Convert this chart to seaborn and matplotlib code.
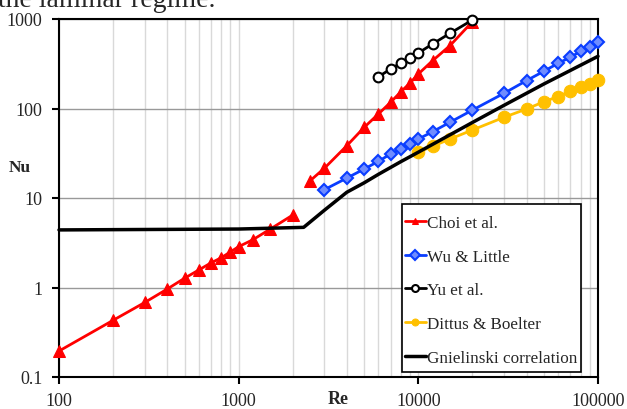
import numpy as np
import matplotlib
matplotlib.use("Agg")
import matplotlib.pyplot as plt
import matplotlib.ticker as mticker
import matplotlib.patches as mpatches
import seaborn as sns
import pandas as pd

# values
choi_re = [100, 200, 300, 400, 500, 600, 700, 800, 900, 1000, 1200, 1500, 2000,
           2500, 3000, 4000, 5000, 6000, 7000, 8000, 9000, 10000, 12000, 15000, 20000]
choi_nu = [0.195, 0.43, 0.68, 0.96, 1.27, 1.57, 1.88, 2.15, 2.5, 2.86, 3.42, 4.5, 6.45,
           15.6, 21.5, 38.4, 61.7, 87, 117, 154, 193, 243, 342, 504, 933]
# laminar (0) and turbulent (1) branches are drawn unconnected
choi_branch = [0] * 13 + [1] * 12

wu_re = [3000, 4000, 5000, 6000, 7000, 8000, 9000, 10000, 12000, 15000, 20000,
         30000, 40000, 50000, 60000, 70000, 80000, 90000, 100000]
wu_nu = [12.4, 16.7, 21.1, 25.7, 31, 35.3, 40.1, 45.6, 55, 70.2, 96,
         148, 205, 261, 320, 373, 435, 490, 557]

yu_re = [6000, 7000, 8000, 9000, 10000, 12000, 15000, 20000]
yu_nu = [226, 276, 322, 364, 417, 526, 692, 975]

db_re = [10000, 12000, 15000, 20000, 30000, 40000, 50000, 60000, 70000, 80000, 90000, 100000]
db_nu = [32.5, 37.8, 45.6, 57.5, 79.8, 98.7, 119, 136, 156, 173, 188, 208]

gn_re = [100, 1000, 2300, 3000, 4000, 5000, 6000, 8000, 10000, 20000, 30000, 50000, 100000]
gn_nu = [4.4, 4.5, 4.7, 7.3, 11.6, 14.8, 18.4, 25.5, 32.5, 69.8, 108.6, 188, 383]

sns.set_style("white")
plt.rcParams['font.family'] = ['Liberation Serif', 'DejaVu Serif']

W, H = 627, 410
fig = plt.figure(figsize=(W / 100, H / 100), dpi=100)
ax = fig.add_axes([59/W, 32/H, 539/W, 358/H])

series = [
    ("Choi et al.", choi_re, choi_nu, choi_branch,
     dict(color="#FF0000", marker="^", markersize=9,
          markerfacecolor="#FF0000", markeredgecolor="#FF0000")),
    ("Wu & Little", wu_re, wu_nu, None,
     dict(color="#0A3DFF", marker="D", markersize=6,
          markerfacecolor="#6F8CFF", markeredgecolor="#0A3DFF", markeredgewidth=1.5)),
    ("Yu et al.", yu_re, yu_nu, None,
     dict(color="black", marker="o", markersize=7,
          markerfacecolor="white", markeredgecolor="black", markeredgewidth=1.5)),
    ("Dittus & Boelter", db_re, db_nu, None,
     dict(color="#FFC000", marker="o", markersize=9,
          markerfacecolor="#FFC000", markeredgecolor="#FFC000")),
    ("Gnielinski correlation", gn_re, gn_nu, None, dict(color="black", marker=None)),
]

for name, re_vals, nu_vals, branch, style in series:
    df = pd.DataFrame({"Re": re_vals, "Nu": nu_vals,
                       "branch": branch if branch is not None else [0] * len(re_vals)})
    lw = 2.5 if name.startswith("Gniel") else 2
    for i, (_, part) in enumerate(df.groupby("branch")):
        sns.lineplot(data=part, x="Re", y="Nu", ax=ax,
                     label=name if i == 0 else "_nolegend_",
                     linewidth=lw, sort=False, estimator=None, clip_on=False,
                     zorder=3, **style)

ax.set_xscale("log")
ax.set_yscale("log")
ax.set_xlim(100, 100000)
ax.set_ylim(0.1, 1000)

ax.xaxis.set_major_locator(mticker.FixedLocator([100, 1000, 10000, 100000]))
ax.xaxis.set_major_formatter(mticker.FixedFormatter(["100", "1000", "10000", "100000"]))
ax.xaxis.set_minor_locator(mticker.LogLocator(base=10, subs=np.arange(2, 10)))
ax.xaxis.set_minor_formatter(mticker.NullFormatter())
ax.yaxis.set_major_locator(mticker.FixedLocator([0.1, 1, 10, 100, 1000]))
ax.yaxis.set_major_formatter(mticker.FixedFormatter(["0.1", "1", "10", "100", "1000"]))
ax.yaxis.set_minor_locator(mticker.NullLocator())

ax.grid(True, which="both", axis="x", color="#d9d9d9", linewidth=1)
ax.grid(True, which="major", axis="y", color="#999999", linewidth=1)
ax.set_axisbelow(True)

for side in ["left", "bottom", "top", "right"]:
    ax.spines[side].set_visible(True)
    ax.spines[side].set_color("black")
    ax.spines[side].set_linewidth(1.5)

ax.tick_params(axis="both", which="major", direction="out", length=5, width=1.5,
               labelsize=13, color="black", bottom=True, left=True)
ax.tick_params(axis="x", which="major", pad=6)
ax.tick_params(axis="y", which="major", pad=7)
ax.tick_params(axis="x", which="minor", length=0)
ax.set_xlabel("")
ax.set_ylabel("")

fig.text(338/W, 1 - 400/H, "Re", fontsize=13, fontweight="bold", ha="center", va="center")
fig.text(20/W, 1 - 168/H, "Nu", fontsize=12.5, fontweight="bold", ha="center", va="center")
fig.text(-0.003, 1 - 7/H, "the laminar regime.", fontsize=20, ha="left", va="baseline")

# legend frame drawn separately so its padding matches the reference
frame = mpatches.Rectangle((402/W, 1 - 373/H), 179/W, 168/H, transform=fig.transFigure,
                           facecolor="white", edgecolor="black", linewidth=1.2,
                           zorder=4, clip_on=False)
ax.add_patch(frame)

handles, labels = ax.get_legend_handles_labels()
keep = [(h, l) for h, l in zip(handles, labels) if not l.startswith("_")]
leg = ax.legend([h for h, _ in keep], [l for _, l in keep],
                loc="upper left", bbox_to_anchor=(405/W, 1 - 216/H),
                bbox_transform=fig.transFigure, fontsize=12.3, frameon=False,
                labelspacing=1.035, handlelength=1.2, handletextpad=0.1,
                borderpad=0, borderaxespad=0)
leg.set_zorder(5)
for h in leg.legend_handles:
    h.set_markersize(5)

fig.savefig("out.png", dpi=100)
